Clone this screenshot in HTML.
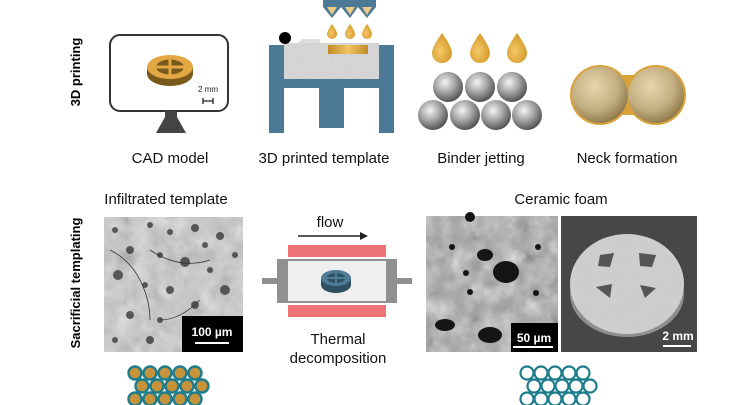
<!DOCTYPE html>
<html><head><meta charset="utf-8"><style>
html,body{margin:0;padding:0;background:#fff;}
svg{display:block;font-family:"Liberation Sans",Arial,sans-serif;}
</style></head><body>
<svg width="750" height="405" viewBox="0 0 750 405" xmlns="http://www.w3.org/2000/svg">
<defs>
<radialGradient id="sph" cx="0.4" cy="0.35" r="0.65">
<stop offset="0" stop-color="#f4f4f4"/><stop offset="0.5" stop-color="#a8a8a8"/><stop offset="1" stop-color="#555"/></radialGradient>
<radialGradient id="neck" cx="0.4" cy="0.35" r="0.7">
<stop offset="0" stop-color="#e6d6b0"/><stop offset="0.6" stop-color="#c3ae80"/><stop offset="1" stop-color="#8a7445"/></radialGradient>
<radialGradient id="drop" cx="0.4" cy="0.6" r="0.6">
<stop offset="0" stop-color="#f5c868"/><stop offset="1" stop-color="#d39a2a"/></radialGradient>
<linearGradient id="bar" x1="0" x2="1"><stop offset="0" stop-color="#c08a25"/><stop offset="0.5" stop-color="#f2c463"/><stop offset="1" stop-color="#c08a25"/></linearGradient>
<filter id="noise" x="0" y="0" width="1" height="1"><feTurbulence type="fractalNoise" baseFrequency="0.9" numOctaves="2" seed="3"/><feColorMatrix type="matrix" values="0 0 0 0 0.55 0 0 0 0 0.55 0 0 0 0 0.55 0 0 0 1.6 -0.5"/></filter>
<filter id="sem" x="0" y="0" width="1" height="1"><feTurbulence type="fractalNoise" baseFrequency="0.06" numOctaves="3" seed="7"/><feColorMatrix type="saturate" values="0"/><feComponentTransfer><feFuncR type="linear" slope="1.6" intercept="-0.15"/><feFuncG type="linear" slope="1.6" intercept="-0.15"/><feFuncB type="linear" slope="1.6" intercept="-0.15"/></feComponentTransfer></filter>
<filter id="ct" x="0" y="0" width="1" height="1"><feTurbulence type="fractalNoise" baseFrequency="0.5" numOctaves="2" seed="5"/><feColorMatrix type="matrix" values="0 0 0 0 0.6 0 0 0 0 0.6 0 0 0 0 0.6 0 0 0 1.5 -0.4"/></filter>
<clipPath id="ctclip"><ellipse cx="627" cy="284" rx="57" ry="50"/></clipPath>
</defs>

<text transform="translate(80,72) rotate(-90)" text-anchor="middle" font-size="13" font-weight="bold">3D printing</text>
<text transform="translate(80,283) rotate(-90)" text-anchor="middle" font-size="13" font-weight="bold">Sacrificial templating</text>

<!-- CAD monitor -->
<rect x="110" y="35" width="118" height="76" rx="10" fill="#fff" stroke="#333" stroke-width="2"/>
<rect x="165" y="111" width="12" height="6" fill="#444"/>
<polygon points="165,117 177,117 186,133 156,133" fill="#444"/>
<ellipse cx="170" cy="74" rx="23" ry="12" fill="#7a5a1c"/>
<rect x="147" y="67" width="46" height="7" fill="#7a5a1c"/>
<ellipse cx="170" cy="67" rx="23" ry="12" fill="#e3a844"/>
<ellipse cx="170" cy="67" rx="14" ry="7.5" fill="#7a5a1c"/>
<rect x="155" y="65.5" width="30" height="3" fill="#e3a844"/>
<rect x="168.5" y="59" width="3" height="16" fill="#e3a844"/>
<text x="198" y="92" font-size="8" fill="#222">2 mm</text>
<path d="M203 98v6M203 101h10M213 98v6" stroke="#222" stroke-width="1.3" fill="none"/>

<!-- printer -->
<rect x="284" y="43" width="95" height="37" fill="#dcdcdc"/>
<rect x="284" y="43" width="95" height="37" filter="url(#noise)"/>
<path d="M284 43h14l4 -4h18v4z" fill="#dcdcdc"/>
<rect x="328" y="45" width="40" height="9" fill="url(#bar)"/>
<rect x="269" y="45" width="15" height="88" fill="#4c7a96"/>
<rect x="379" y="45" width="15" height="88" fill="#4c7a96"/>
<rect x="284" y="79" width="95" height="9" fill="#4c7a96"/>
<rect x="319" y="88" width="25" height="40" fill="#4c7a96"/>
<circle cx="285" cy="38" r="6" fill="#000"/>
<rect x="323" y="0" width="53" height="7" fill="#4c7a96"/>
<polygon points="323,7 341,7 332,18" fill="#4c7a96"/><polygon points="341,7 358,7 350,18" fill="#4c7a96"/><polygon points="358,7 376,7 367,18" fill="#4c7a96"/>
<polygon points="327,7 337,7 332,15" fill="#edcb86"/><polygon points="345,7 355,7 350,15" fill="#edcb86"/><polygon points="362,7 372,7 367,15" fill="#edcb86"/>
<g fill="url(#drop)">
<path d="M332 24q-5 7-5 10a5 5 0 0 0 10 0q0-3-5-10z"/>
<path d="M350 24q-5 7-5 10a5 5 0 0 0 10 0q0-3-5-10z"/>
<path d="M367 24q-5 7-5 10a5 5 0 0 0 10 0q0-3-5-10z"/>
</g>

<!-- binder jetting -->
<g fill="url(#drop)">
<path d="M442 33q-10 14-10 20a10 10 0 0 0 20 0q0-6-10-20z"/>
<path d="M480 33q-10 14-10 20a10 10 0 0 0 20 0q0-6-10-20z"/>
<path d="M517 33q-10 14-10 20a10 10 0 0 0 20 0q0-6-10-20z"/>
</g>
<g fill="url(#sph)">
<circle cx="448" cy="87" r="15"/><circle cx="480" cy="87" r="15"/><circle cx="512" cy="87" r="15"/>
<circle cx="433" cy="115" r="15"/><circle cx="465" cy="115" r="15"/><circle cx="496" cy="115" r="15"/><circle cx="527" cy="115" r="15"/>
</g>

<!-- neck -->
<rect x="610" y="75" width="36" height="40" rx="6" fill="#d9a23a"/>
<circle cx="600" cy="95" r="30" fill="#d9a23a"/><circle cx="656" cy="95" r="30" fill="#d9a23a"/>
<circle cx="600" cy="95" r="28" fill="url(#neck)"/><circle cx="656" cy="95" r="28" fill="url(#neck)"/>

<g font-size="15" fill="#111" text-anchor="middle">
<text x="170" y="163">CAD model</text>
<text x="324" y="163">3D printed template</text>
<text x="481" y="163">Binder jetting</text>
<text x="627" y="163">Neck formation</text>
<text x="166" y="204">Infiltrated template</text>
<text x="561" y="204">Ceramic foam</text>
<text x="330" y="227">flow</text>
<text x="338" y="344">Thermal</text>
<text x="338" y="363">decomposition</text>
</g>

<!-- infiltrated image -->
<rect x="104" y="217" width="139" height="135" fill="#c4c4c4"/>
<rect x="104" y="217" width="139" height="135" filter="url(#sem)" opacity="0.55"/>
<g fill="#3a3a3a" opacity="0.8">
<circle cx="115" cy="230" r="3"/><circle cx="150" cy="225" r="3"/><circle cx="170" cy="232" r="3"/><circle cx="195" cy="228" r="4"/><circle cx="220" cy="236" r="4"/><circle cx="130" cy="250" r="4"/><circle cx="160" cy="255" r="3"/><circle cx="185" cy="262" r="5"/><circle cx="210" cy="270" r="3"/><circle cx="118" cy="275" r="5"/><circle cx="145" cy="285" r="3"/><circle cx="170" cy="290" r="4"/><circle cx="225" cy="290" r="5"/><circle cx="130" cy="315" r="4"/><circle cx="160" cy="320" r="3"/><circle cx="195" cy="305" r="4"/><circle cx="115" cy="340" r="3"/><circle cx="150" cy="340" r="4"/><circle cx="235" cy="255" r="3"/><circle cx="205" cy="245" r="3"/>
</g>
<path d="M110 250q20 10 30 30t10 40M150 250q30 20 60 10M200 300q-20 20 -40 20" stroke="#333" stroke-width="0.8" fill="none"/>
<rect x="182" y="316" width="61" height="36" fill="#000"/>
<text x="212" y="336" font-size="12" font-weight="bold" fill="#fff" text-anchor="middle">100 µm</text>
<rect x="195" y="342" width="34" height="2" fill="#fff"/>

<!-- reactor -->
<line x1="298" y1="236" x2="362" y2="236" stroke="#222" stroke-width="1.5"/>
<polygon points="360,232 368,236 360,240" fill="#222"/>
<rect x="288" y="245" width="98" height="12" fill="#ee7376"/>
<rect x="288" y="305" width="98" height="12" fill="#ee7376"/>
<rect x="262" y="278" width="15" height="6" fill="#909090"/>
<rect x="397" y="278" width="15" height="6" fill="#909090"/>
<rect x="277" y="259" width="120" height="44" fill="#909090"/>
<rect x="288" y="261" width="98" height="40" fill="#efefef"/>
<ellipse cx="336" cy="285" rx="15" ry="8" fill="#2f5063"/>
<rect x="321" y="278" width="30" height="7" fill="#2f5063"/>
<ellipse cx="336" cy="278" rx="15" ry="8" fill="#4d7b96"/>
<ellipse cx="336" cy="278" rx="9" ry="5" fill="#2f5063"/>
<rect x="326" y="277" width="20" height="2" fill="#4d7b96"/>
<rect x="335" y="272" width="2" height="12" fill="#4d7b96"/>

<!-- ceramic SEM -->
<rect x="426" y="216" width="132" height="136" fill="#a0a0a0"/>
<rect x="426" y="216" width="132" height="136" filter="url(#sem)" opacity="0.75"/>
<g fill="#151515">
<ellipse cx="506" cy="272" rx="13" ry="11"/><circle cx="452" cy="247" r="3"/><circle cx="466" cy="273" r="3"/><circle cx="470" cy="292" r="3"/><ellipse cx="490" cy="335" rx="12" ry="8"/><ellipse cx="445" cy="325" rx="10" ry="6"/><circle cx="538" cy="247" r="3"/><circle cx="536" cy="293" r="3"/><circle cx="470" cy="217" r="5"/><ellipse cx="485" cy="255" rx="8" ry="6"/>
</g>
<rect x="511" y="323" width="47" height="29" fill="#000"/>
<text x="534" y="342" font-size="12" font-weight="bold" fill="#fff" text-anchor="middle">50 µm</text>
<rect x="513" y="346" width="40" height="2" fill="#fff"/>

<!-- CT -->
<rect x="561" y="216" width="136" height="136" fill="#474747"/>
<ellipse cx="627" cy="294" rx="57" ry="43" fill="#8f8f8f"/>
<ellipse cx="627" cy="284" rx="57" ry="50" fill="#cfcfcf"/>
<g clip-path="url(#ctclip)"><rect x="570" y="234" width="114" height="100" filter="url(#ct)" opacity="0.8"/></g>
<g fill="#555">
<polygon points="600,255 614,253 610,267 598,266"/><polygon points="639,253 656,255 652,267 640,266"/>
<polygon points="596,287 612,284 610,298"/><polygon points="640,285 656,288 645,298"/>
</g>
<text x="678" y="340" font-size="12" font-weight="bold" fill="#fff" text-anchor="middle">2 mm</text>
<rect x="663" y="345" width="28" height="2" fill="#fff"/>

<!-- gold circles -->
<g fill="#c6923a" stroke="#1e7d8c" stroke-width="2.4">
<circle cx="135" cy="373" r="6.5"/><circle cx="150" cy="373" r="6.5"/><circle cx="165" cy="373" r="6.5"/><circle cx="180" cy="373" r="6.5"/><circle cx="195" cy="373" r="6.5"/>
<circle cx="142" cy="386" r="6.5"/><circle cx="157" cy="386" r="6.5"/><circle cx="172" cy="386" r="6.5"/><circle cx="187" cy="386" r="6.5"/><circle cx="202" cy="386" r="6.5"/>
<circle cx="135" cy="399" r="6.5"/><circle cx="150" cy="399" r="6.5"/><circle cx="165" cy="399" r="6.5"/><circle cx="180" cy="399" r="6.5"/><circle cx="195" cy="399" r="6.5"/>
</g>
<g fill="none" stroke="#1e7d8c" stroke-width="2.2">
<circle cx="527" cy="373" r="6.5"/><circle cx="541" cy="373" r="6.5"/><circle cx="555" cy="373" r="6.5"/><circle cx="569" cy="373" r="6.5"/><circle cx="583" cy="373" r="6.5"/>
<circle cx="534" cy="386" r="6.5"/><circle cx="548" cy="386" r="6.5"/><circle cx="562" cy="386" r="6.5"/><circle cx="576" cy="386" r="6.5"/><circle cx="590" cy="386" r="6.5"/>
<circle cx="527" cy="399" r="6.5"/><circle cx="541" cy="399" r="6.5"/><circle cx="555" cy="399" r="6.5"/><circle cx="569" cy="399" r="6.5"/><circle cx="583" cy="399" r="6.5"/>
</g>
</svg>
</body></html>
